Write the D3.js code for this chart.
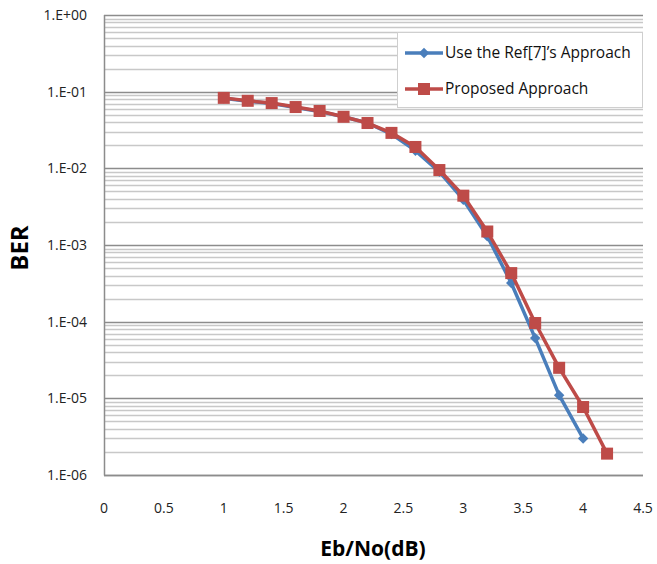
<!DOCTYPE html>
<html><head><meta charset="utf-8">
<script src="https://cdn.jsdelivr.net/npm/d3@7"></script>
<style>body{margin:0;background:#fff}svg{display:block}text{font-family:"Open Sans","Noto Sans",sans-serif}</style>
</head><body><svg id="c" width="657" height="564"></svg>
<script>
const xRef = [1,1.2,1.4,1.6,1.8,2,2.2,2.4,2.6,2.8,3,3.2,3.4,3.6,3.8,4];
const berRef = [0.082,0.075,0.07,0.062,0.055,0.047,0.039,0.028,0.017,0.009,0.0039,0.0013,0.00032,0.000061,0.000011,0.000003];
const xProp = [1,1.2,1.4,1.6,1.8,2,2.2,2.4,2.6,2.8,3,3.2,3.4,3.6,3.8,4,4.2];
const berProp = [0.083,0.076,0.071,0.063,0.056,0.047,0.039,0.029,0.019,0.0095,0.0044,0.0015,0.00043,0.000096,0.000025,0.0000077,0.0000019];
const xTicks = [0,0.5,1,1.5,2,2.5,3,3.5,4,4.5];
const yTicks = [1,1e-1,1e-2,1e-3,1e-4,1e-5,1e-6];
const yTickLabels = ["1.E+00","1.E-01","1.E-02","1.E-03","1.E-04","1.E-05","1.E-06"];
const seriesNames = ["Use the  Ref[7]\u2019s Approach","Proposed  Approach"];

const svg = d3.select("#c");
const L=104, R=643, T=15, B=475;
const x = d3.scaleLinear().domain([0,4.5]).range([L,R]);
const y = d3.scaleLog().domain([1e-6,1]).range([B,T]);

// minor gridlines
const minors=[];
for(let e=-6;e<0;e++){for(let m=2;m<=9;m++){minors.push(m*Math.pow(10,e));}}
svg.append("g").selectAll("line").data(minors).join("line")
  .attr("x1",L).attr("x2",R).attr("y1",d=>Math.round(y(d))+0.5).attr("y2",d=>Math.round(y(d))+0.5)
  .attr("stroke","#c8c8c8").attr("stroke-width",1.5);
svg.append("g").selectAll("line").data(yTicks).join("line")
  .attr("x1",L).attr("x2",R).attr("y1",d=>Math.round(y(d))+0.5).attr("y2",d=>Math.round(y(d))+0.5)
  .attr("stroke","#8c8c8c").attr("stroke-width",1.5);
// axes lines
svg.append("line").attr("x1",L+0.5).attr("x2",L+0.5).attr("y1",T).attr("y2",B+0.5).attr("stroke","#8c8c8c").attr("stroke-width",1.5);
svg.append("line").attr("x1",L).attr("x2",R).attr("y1",B+0.5).attr("y2",B+0.5).attr("stroke","#8c8c8c").attr("stroke-width",1.5);

// tick labels
svg.append("g").selectAll("text").data(yTicks).join("text")
  .attr("x",87).attr("y",d=>y(d)+5).attr("text-anchor","end")
  .attr("font-size",14).attr("fill","#222").text((d,i)=>yTickLabels[i]);
svg.append("g").selectAll("text").data(xTicks).join("text")
  .attr("x",d=>x(d)).attr("y",513).attr("text-anchor","middle")
  .attr("font-size",14).attr("fill","#222").text(d=>d);

svg.append("text").attr("x",373).attr("y",556).attr("text-anchor","middle")
  .attr("font-size",21).attr("font-weight","bold").attr("fill","#000").text("Eb/No(dB)");
svg.append("text").attr("transform","translate(28,248) rotate(-90)").attr("text-anchor","middle")
  .attr("font-size",24).attr("font-weight","bold").attr("fill","#000").text("BER");

const line = d3.line().x(d=>x(d[0])).y(d=>y(d[1]));
const refData = xRef.map((v,i)=>[v,berRef[i]]);
const propData = xProp.map((v,i)=>[v,berProp[i]]);
const blue="#4a7ebb", red="#be4b48";

svg.append("path").datum(refData).attr("d",line).attr("fill","none").attr("stroke",blue).attr("stroke-width",3.5).attr("stroke-linejoin","round");
svg.append("g").selectAll("path").data(refData).join("path")
  .attr("d",d3.symbol(d3.symbolDiamond2,70)).attr("transform",d=>`translate(${x(d[0])},${y(d[1])})`).attr("fill",blue);
svg.append("path").datum(propData).attr("d",line).attr("fill","none").attr("stroke",red).attr("stroke-width",3.5).attr("stroke-linejoin","round");
svg.append("g").selectAll("rect").data(propData).join("rect")
  .attr("x",d=>x(d[0])-6).attr("y",d=>y(d[1])-6).attr("width",12).attr("height",12).attr("fill",red);

// legend
const lg = svg.append("g");
lg.append("rect").attr("x",397.5).attr("y",32.5).attr("width",245).attr("height",75).attr("fill","#fff").attr("stroke","#cfcfcf");
const colors=[blue,red];
seriesNames.forEach((n,i)=>{
  const yy = 53+i*36;
  lg.append("line").attr("x1",405).attr("x2",443).attr("y1",yy).attr("y2",yy).attr("stroke",colors[i]).attr("stroke-width",3.5);
  if(i===0) lg.append("path").attr("d",d3.symbol(d3.symbolDiamond2,70)).attr("transform",`translate(424,${yy})`).attr("fill",blue);
  else lg.append("rect").attr("x",418).attr("y",yy-6).attr("width",12).attr("height",12).attr("fill",red);
  lg.append("text").attr("x",445).attr("y",yy+5).attr("font-size",15.5).attr("fill","#111").text(n);
});
</script></body></html>
